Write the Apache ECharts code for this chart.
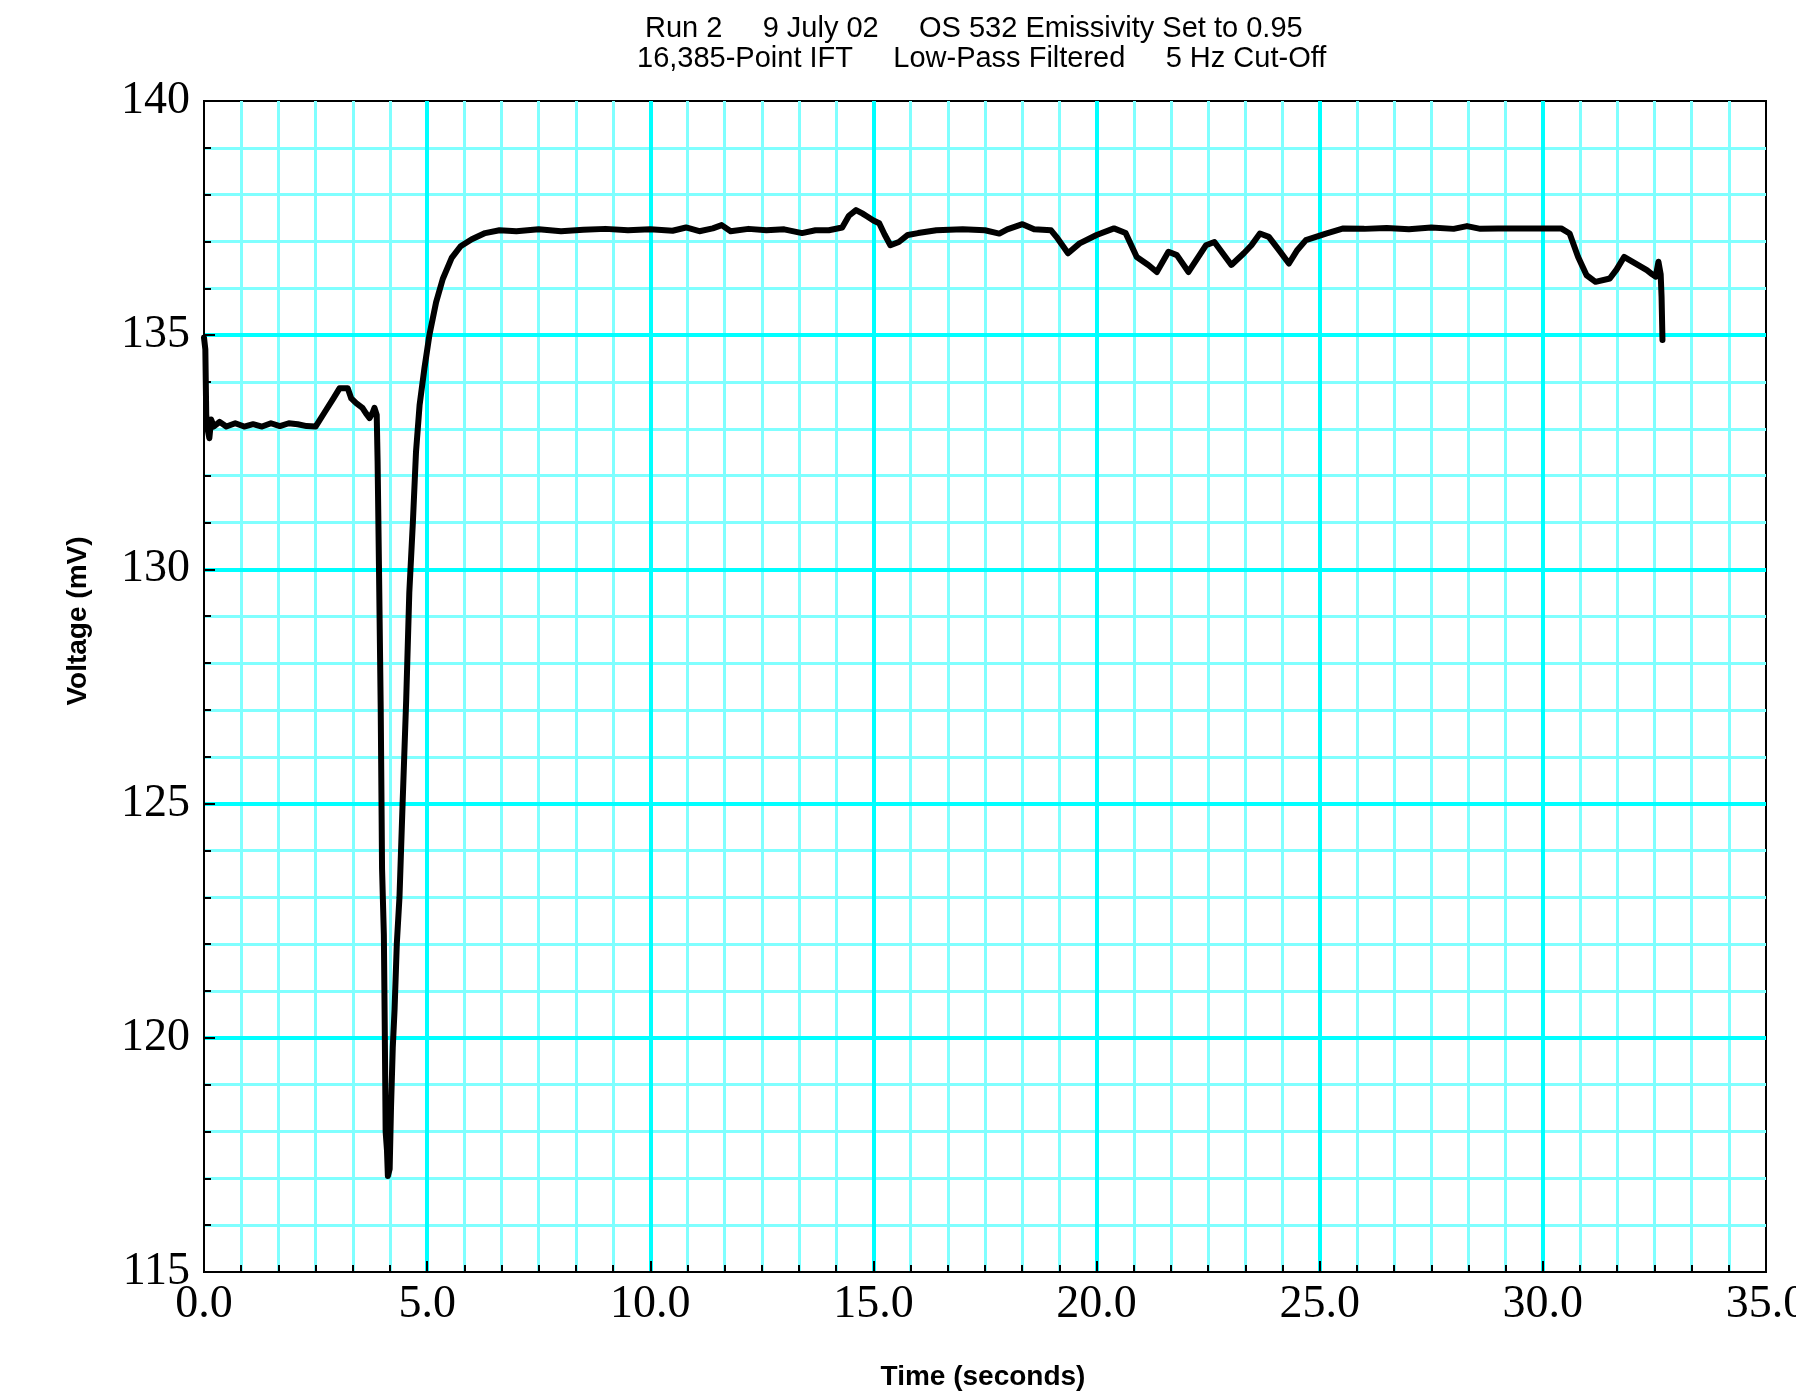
<!DOCTYPE html>
<html>
<head>
<meta charset="utf-8">
<script src="https://cdn.jsdelivr.net/npm/echarts@6/dist/echarts.min.js"></script>
<style>
html,body{margin:0;padding:0;background:#fff;overflow:hidden;width:1796px;height:1394px;}
#chart{width:1796px;height:1394px;position:absolute;left:0;top:0;}
</style>
</head>
<body>
<div id="chart"></div>
<script>
const titleLine1 = "Run 2     9 July 02     OS 532 Emissivity Set to 0.95";
const titleLine2 = "16,385-Point IFT     Low-Pass Filtered     5 Hz Cut-Off";
const xName = "Time (seconds)";
const yName = "Voltage (mV)";
const xTicks = [0, 5, 10, 15, 20, 25, 30, 35];
const yTicks = [115, 120, 125, 130, 135, 140];

const times = [
  0.00, 0.03, 0.05, 0.08, 0.12, 0.16, 0.22, 0.35, 0.50, 0.70, 0.90, 1.10, 1.30, 1.50, 1.70, 1.90,
  2.10, 2.30, 2.50, 2.70, 2.90, 3.04, 3.22, 3.30, 3.41, 3.55, 3.63, 3.71, 3.78, 3.82, 3.87, 3.89,
  3.92, 3.96, 3.99, 4.03, 4.05, 4.07, 4.10, 4.12, 4.16, 4.19, 4.23, 4.27, 4.32, 4.38, 4.45, 4.53,
  4.60, 4.68, 4.75, 4.83, 4.94, 5.05, 5.20, 5.35, 5.55, 5.75, 6.00, 6.30, 6.62, 7.00, 7.50, 8.00,
  8.50, 9.00, 9.50, 10.00, 10.50, 10.80, 11.10, 11.40, 11.60, 11.80, 12.20, 12.60, 13.00, 13.40, 13.70, 14.00,
  14.30, 14.45, 14.61, 14.75, 14.87, 15.00, 15.13, 15.25, 15.38, 15.57, 15.77, 16.00, 16.41, 17.00, 17.50, 17.82,
  18.00, 18.34, 18.60, 18.98, 19.10, 19.36, 19.62, 20.00, 20.39, 20.65, 20.90, 21.16, 21.35, 21.61, 21.80, 22.06,
  22.45, 22.64, 23.02, 23.30, 23.47, 23.66, 23.86, 24.10, 24.31, 24.50, 24.69, 25.14, 25.53, 26.00, 26.50, 27.00,
  27.50, 28.00, 28.30, 28.60, 29.00, 29.50, 30.00, 30.41, 30.60, 30.79, 30.98, 31.18, 31.50, 31.65, 31.82, 32.08,
  32.33, 32.45, 32.53, 32.59, 32.64, 32.66, 32.68
];
const volts = [
  134.95, 134.70, 133.30, 133.00, 132.80, 133.20, 133.05, 133.15, 133.05, 133.12, 133.05, 133.10, 133.05, 133.12, 133.06, 133.12,
  133.10, 133.06, 133.05, 133.35, 133.65, 133.87, 133.87, 133.65, 133.55, 133.45, 133.33, 133.23, 133.35, 133.45, 133.30, 132.30,
  130.10, 127.00, 123.60, 122.20, 120.25, 118.00, 117.60, 117.05, 117.20, 118.50, 119.80, 120.60, 122.00, 123.00, 125.00, 127.20,
  129.50, 131.00, 132.50, 133.50, 134.30, 135.00, 135.70, 136.20, 136.65, 136.90, 137.05, 137.18, 137.24, 137.22, 137.26, 137.22,
  137.25, 137.27, 137.24, 137.26, 137.23, 137.30, 137.22, 137.28, 137.35, 137.22, 137.27, 137.24, 137.26, 137.18, 137.24, 137.24,
  137.30, 137.55, 137.67, 137.60, 137.53, 137.45, 137.39, 137.15, 136.92, 136.99, 137.14, 137.18, 137.24, 137.26, 137.24, 137.17,
  137.26, 137.37, 137.26, 137.24, 137.10, 136.75, 136.96, 137.14, 137.28, 137.18, 136.67, 136.50, 136.35, 136.78, 136.71, 136.35,
  136.92, 136.99, 136.50, 136.75, 136.92, 137.17, 137.10, 136.80, 136.53, 136.82, 137.03, 137.17, 137.28, 137.27, 137.29, 137.26,
  137.30, 137.27, 137.33, 137.27, 137.28, 137.28, 137.28, 137.28, 137.17, 136.67, 136.28, 136.14, 136.21, 136.40, 136.67, 136.53,
  136.39, 136.30, 136.25, 136.57, 136.30, 135.82, 134.90
];

const xMin = xTicks[0], xMax = xTicks[xTicks.length - 1], xStep = xTicks[1] - xTicks[0];
const yMin = yTicks[0], yMax = yTicks[yTicks.length - 1], yStep = yTicks[1] - yTicks[0];
const seriesData = times.map((t, i) => [t, volts[i]]);

const chart = echarts.init(document.getElementById('chart'), null, {renderer: 'canvas', width: 1796, height: 1394});

const hidden = {
  axisLine: {show: false}, axisTick: {show: false}, axisLabel: {show: false}
};

const option = {
  backgroundColor: '#ffffff',
  animation: false,
  title: [
    {text: titleLine1, left: 645, top: 14, padding: 0,
     textStyle: {fontFamily: 'Liberation Sans', fontSize: 29, fontWeight: 'normal', color: '#000'}},
    {text: titleLine2, left: 637, top: 44, padding: 0,
     textStyle: {fontFamily: 'Liberation Sans', fontSize: 29, fontWeight: 'normal', color: '#000'}}
  ],
  grid: {left: 204, top: 101, right: 30, bottom: 122, show: true, borderColor: '#000', borderWidth: 2,
    backgroundColor: 'transparent', containLabel: false, outerBoundsMode: 'none'},
  xAxis: [
    Object.assign({type: 'value', min: xMin, max: xMax, interval: xStep, position: 'bottom', z: 0,
      splitLine: {show: false},
      minorTick: {show: false, splitNumber: 6},
      minorSplitLine: {show: true, lineStyle: {color: '#80ffff', width: 3}}}, hidden),
    Object.assign({type: 'value', min: xMin, max: xMax, interval: xStep, position: 'top', z: 1,
      splitLine: {show: true, showMinLine: false, showMaxLine: false, lineStyle: {color: '#00ffff', width: 4}}}, hidden),
    {type: 'value', min: xMin, max: xMax, interval: xStep, position: 'bottom', z: 3,
      splitLine: {show: false},
      axisLine: {show: true, onZero: false, lineStyle: {color: '#000', width: 2}},
      axisTick: {show: true, inside: true, length: 11, lineStyle: {color: '#000', width: 2}},
      minorTick: {show: true, splitNumber: 6, length: 7, lineStyle: {color: '#000', width: 2}},
      axisLabel: {show: true, margin: 10, color: '#000', fontFamily: 'Liberation Serif', fontSize: 46,
        hideOverlap: false, formatter: v => v.toFixed(1)}}
  ],
  yAxis: [
    Object.assign({type: 'value', min: yMin, max: yMax, interval: yStep, position: 'left', z: 0,
      splitLine: {show: false},
      minorTick: {show: false, splitNumber: 5},
      minorSplitLine: {show: true, lineStyle: {color: '#80ffff', width: 3}}}, hidden),
    Object.assign({type: 'value', min: yMin, max: yMax, interval: yStep, position: 'right', z: 1,
      splitLine: {show: true, showMinLine: false, showMaxLine: false, lineStyle: {color: '#00ffff', width: 4}}}, hidden),
    {type: 'value', min: yMin, max: yMax, interval: yStep, position: 'left', z: 3,
      splitLine: {show: false},
      axisLine: {show: true, onZero: false, lineStyle: {color: '#000', width: 2}},
      axisTick: {show: true, inside: true, length: 11, lineStyle: {color: '#000', width: 2}},
      minorTick: {show: true, splitNumber: 5, length: 7, lineStyle: {color: '#000', width: 2}},
      axisLabel: {show: true, margin: 14, color: '#000', fontFamily: 'Liberation Serif', fontSize: 46,
        hideOverlap: false, formatter: v => String(v)}}
  ],
  graphic: [
    {type: 'text', x: 78, y: 621, rotation: Math.PI / 2, z: 10,
     style: {text: yName, fill: '#000', font: 'bold 28px "Liberation Sans"', textAlign: 'center', textVerticalAlign: 'middle'}},
    {type: 'text', x: 983, y: 1377, z: 10,
     style: {text: xName, fill: '#000', font: 'bold 28px "Liberation Sans"', textAlign: 'center', textVerticalAlign: 'middle'}}
  ],
  series: [{
    type: 'line',
    xAxisIndex: 2,
    yAxisIndex: 2,
    data: seriesData,
    showSymbol: false,
    symbol: 'none',
    smooth: false,
    z: 5,
    lineStyle: {color: '#000', width: 6, join: 'round', cap: 'round'}
  }]
};
chart.setOption(option);
</script>
</body>
</html>
